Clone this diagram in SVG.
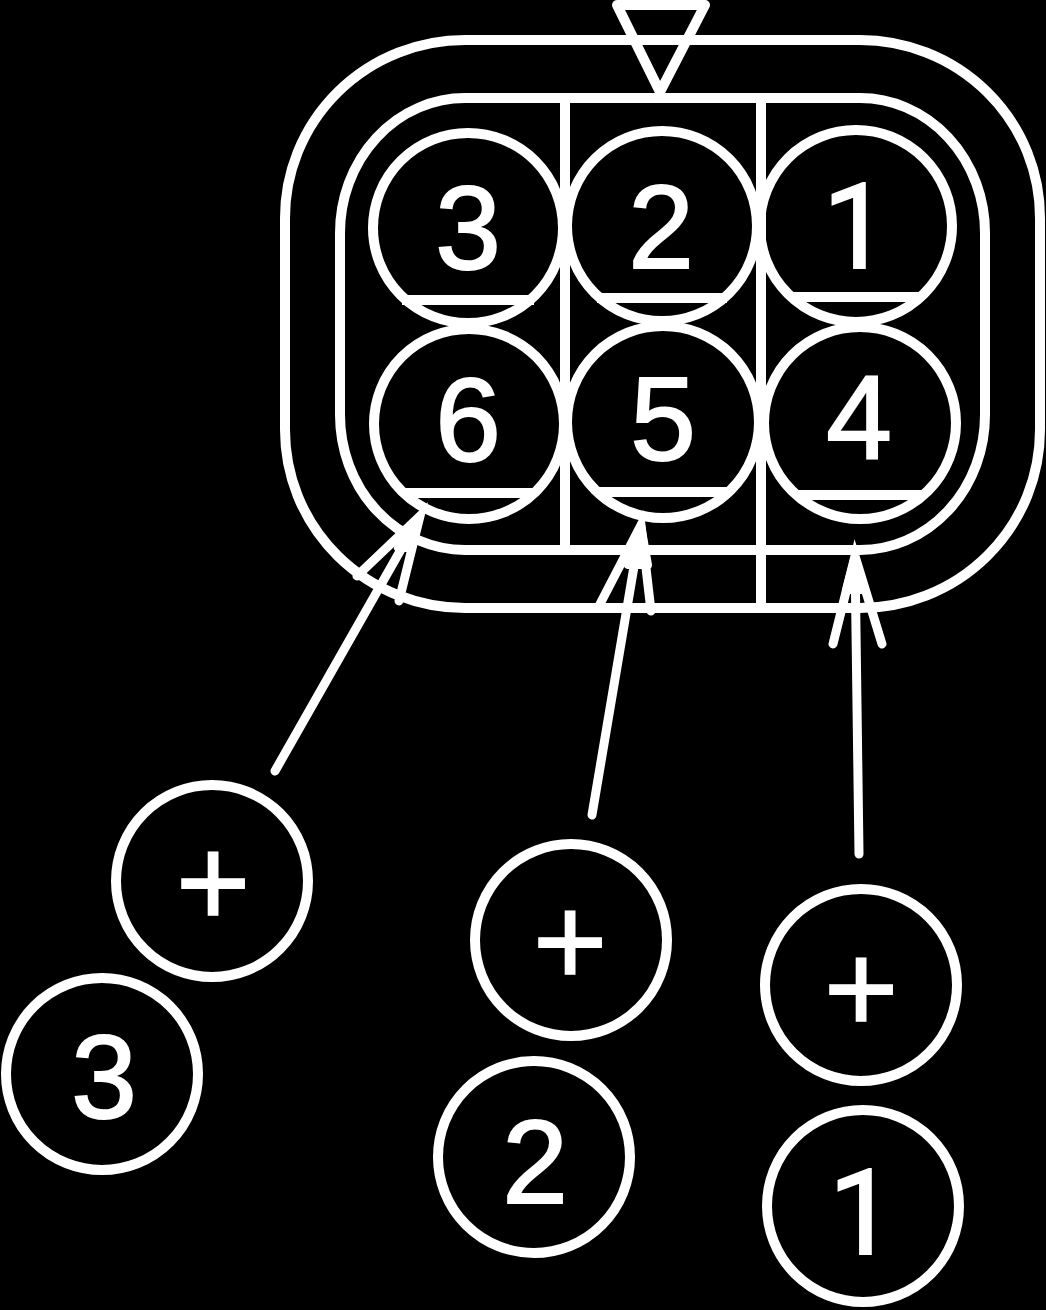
<svg xmlns="http://www.w3.org/2000/svg" width="1046" height="1310" viewBox="0 0 1046 1310">
<style>
.l{fill:none;stroke:#fff;stroke-width:10;stroke-linecap:round;stroke-linejoin:round}
.b{fill:none;stroke:#fff;stroke-width:10;stroke-linecap:butt}
.a{fill:#fff;stroke:#fff;stroke-width:8;stroke-linecap:round;stroke-linejoin:round}
.s{fill:none;stroke:#fff;stroke-width:9;stroke-linecap:round}
.c{fill:none;stroke:#fff;stroke-width:10}
.t{fill:#fff;stroke:#fff;stroke-width:2;font-family:"Liberation Sans",Arial,sans-serif;font-size:118px;text-anchor:middle}
.o{fill:#fff;stroke:#fff;stroke-width:2;font-family:Roboto,"Liberation Sans",sans-serif;font-size:118px;text-anchor:middle}
.p{fill:#fff;stroke:#fff;stroke-width:1.5;font-family:"Liberation Sans",Arial,sans-serif;font-size:128px;text-anchor:middle}
</style>
<rect width="1046" height="1310" fill="#000"/>
<g id="housing">
<rect x="285" y="40" width="755" height="568" rx="180" ry="178" class="l"/>
<rect x="340" y="98" width="645" height="452" rx="125" ry="135" class="l"/>
<path class="b" d="M565 98V550M761 98V608"/>
</g>
<g id="key"><path class="l" d="M617 5H705L660 92Z"/></g>
<g id="pins">
<g id="pin3"><circle cx="468" cy="228" r="95" class="c"/><path class="b" d="M402 300H534"/><text x="468" y="269" class="t">3</text></g>
<g id="pin2"><circle cx="662" cy="226" r="95" class="c"/><path class="b" d="M597 298H727"/><text x="661" y="268" class="t">2</text></g>
<g id="pin1"><circle cx="856" cy="226" r="96" class="c"/><path class="b" d="M791 297H921"/><text x="856" y="268" class="o">1</text></g>
<g id="pin6"><circle cx="469" cy="424" r="95" class="c"/><path class="b" d="M405 493H534"/><text x="468" y="461" class="t">6</text></g>
<g id="pin5"><circle cx="663" cy="422" r="96" class="c"/><path class="b" d="M597 492H730"/><text x="663" y="460" class="t">5</text></g>
<g id="pin4"><circle cx="860" cy="423" r="96" class="c"/><path class="b" d="M795 495H925"/><text x="859" y="459" class="t">4</text></g>
</g>
<g id="connectors">
<path class="s" d="M275 771L420 516M357 576L420 516L399 601"/>
<path class="s" d="M592 815L641 525M600 604L641 525L651 611"/>
<path class="s" d="M859 854L855 556M833 644L855 556L882 644"/>
<path class="a" d="M420 516L398 548L410 548Z"/>
<path class="a" d="M641 525L628 565L648 565Z"/>
<path class="a" d="M855 556L846 590L864 590Z"/>
</g>
<g id="plus3"><circle cx="212" cy="881" r="96" class="c"/><text x="213" y="926" class="p">+</text></g>
<g id="plus2"><circle cx="571" cy="940" r="96" class="c"/><text x="570" y="985" class="p">+</text></g>
<g id="plus1"><circle cx="861" cy="985" r="96" class="c"/><text x="861" y="1032" class="p">+</text></g>
<g id="label3"><circle cx="102" cy="1074" r="96" class="c"/><text x="104" y="1118" class="t">3</text></g>
<g id="label2"><circle cx="534" cy="1157" r="96" class="c"/><text x="535" y="1203" class="t">2</text></g>
<g id="label1"><circle cx="863" cy="1206" r="96" class="c"/><text x="862" y="1254" class="o">1</text></g>
</svg>
